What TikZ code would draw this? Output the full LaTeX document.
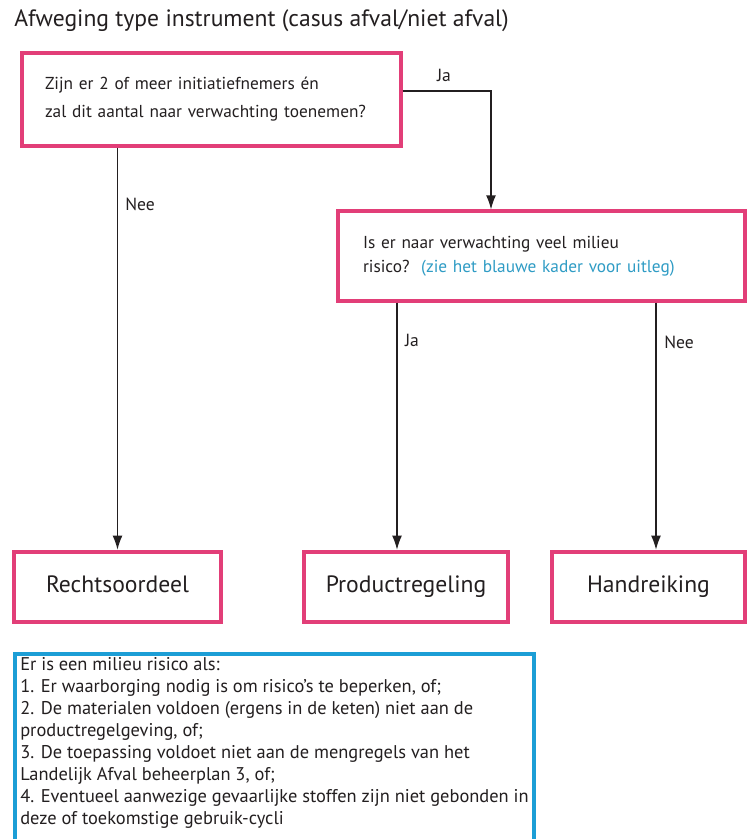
\documentclass[tikz,border=0pt]{standalone}
\usepackage{fontspec}
\setmainfont{PT Sans}
\usetikzlibrary{positioning, arrows.meta}
\definecolor{flowPink}{HTML}{E23E78}
\definecolor{flowBlue}{HTML}{1C9ED6}
\definecolor{flowCyan}{HTML}{2F9CC5}
\definecolor{flowInk}{HTML}{231F20}
\newdimen\pxu
\pxu=0.025cm
\tikzset{
    flowBoxBase/.style={
        rectangle,
        draw=flowPink,
        fill=white,
        text=flowInk,
        inner sep=0pt
    },
    % Question boxes
    question/.style={
        flowBoxBase,
        line width=2.2pt,
        align=left,
        font=\fontsize{12.3}{20}\selectfont
    },
    % Outcome boxes
    outcome/.style={
        flowBoxBase,
        line width=3.2pt,
        minimum height=70\pxu,
        text height=12pt,
        text depth=4pt,
        font=\fontsize{16.8}{20}\selectfont
    },
    infoBox/.style={
        rectangle,
        text=flowInk,
        align=left,
        anchor=north west,
        inner sep=0pt,
        font=\fontsize{13.1}{15.65}\selectfont
    },
    % Arrows
    flowArrow/.style={->, >={Latex[length=10pt,width=7pt]}, line width=0.9pt, draw=flowInk},
    flowLabel/.style={font=\fontsize{12.5}{14}\selectfont, text=flowInk, inner sep=1pt}
}

\begin{document}
\begin{tikzpicture}[x=0.025cm, y=-0.025cm]
    \clip (0,0) rectangle (748,839);
    \fill[white] (0,0) rectangle (748,839);
    % Title
    \node[anchor=base west, font=\fontsize{16.8}{20}\selectfont, text=flowInk, inner sep=0pt] (title) at (14,27) {Afweging type instrument (casus afval/niet afval)};
    % Questions
    \node[question, minimum width=379\pxu, minimum height=93\pxu, text width=333\pxu] (q1) at (211.5,99.5)
        {Zijn er 2 of meer initiatiefnemers én\\zal dit aantal naar verwachting toenemen?};
    \node[question, minimum width=407\pxu, minimum height=90\pxu, text width=357\pxu, font=\fontsize{12.3}{17}\selectfont] (q2) at (541.5,256)
        {Is er naar verwachting veel milieu\\risico?\ \ {\color{flowCyan}(zie het blauwe kader voor uitleg)}};
    % Outcomes
    \node[outcome, minimum width=207\pxu] (rechts) at (117.5,587) {Rechtsoordeel};
    \node[outcome, minimum width=204\pxu] (prod) at (406,587) {Productregeling};
    \node[outcome, minimum width=193\pxu] (hand) at (648.5,587) {Handreiking};
    % Explanation
    \draw[flowBlue, line width=2.8pt] (15,850) -- (15,654) -- (534,654) -- (534,850);
    \node[infoBox] (info) at (20,657)
        {Er is een milieu risico als:\\
         1. Er waarborging nodig is om risico’s te beperken, of;\\
         2. De materialen voldoen (ergens in de keten) niet aan de\\
         productregelgeving, of;\\
         3. De toepassing voldoet niet aan de mengregels van het\\
         Landelijk Afval beheerplan 3, of;\\
         4. Eventueel aanwezige gevaarlijke stoffen zijn niet gebonden in\\
         deze of toekomstige gebruik-cycli};
    % Connectors
    \coordinate (jaBend) at (491,91);
    \coordinate (jaDown) at (397,0);
    \coordinate (neeDown) at (656,0);
    \draw[flowArrow] (q1.east |- jaBend) -- (jaBend) -- (jaBend |- q2.north);
    \draw[flowArrow] (q1.south -| rechts.north) -- (rechts.north);
    \draw[flowArrow] (q2.south -| jaDown) -- (prod.north -| jaDown);
    \draw[flowArrow] (q2.south -| neeDown) -- (hand.north -| neeDown);
    % Labels
    \node[flowLabel] (jaTop) at (444,75) {Ja};
    \node[flowLabel] (neeLeft) at (140,204) {Nee};
    \node[flowLabel] (jaMid) at (412,340) {Ja};
    \node[flowLabel] (neeRight) at (679,342) {Nee};
\end{tikzpicture}
\end{document}
